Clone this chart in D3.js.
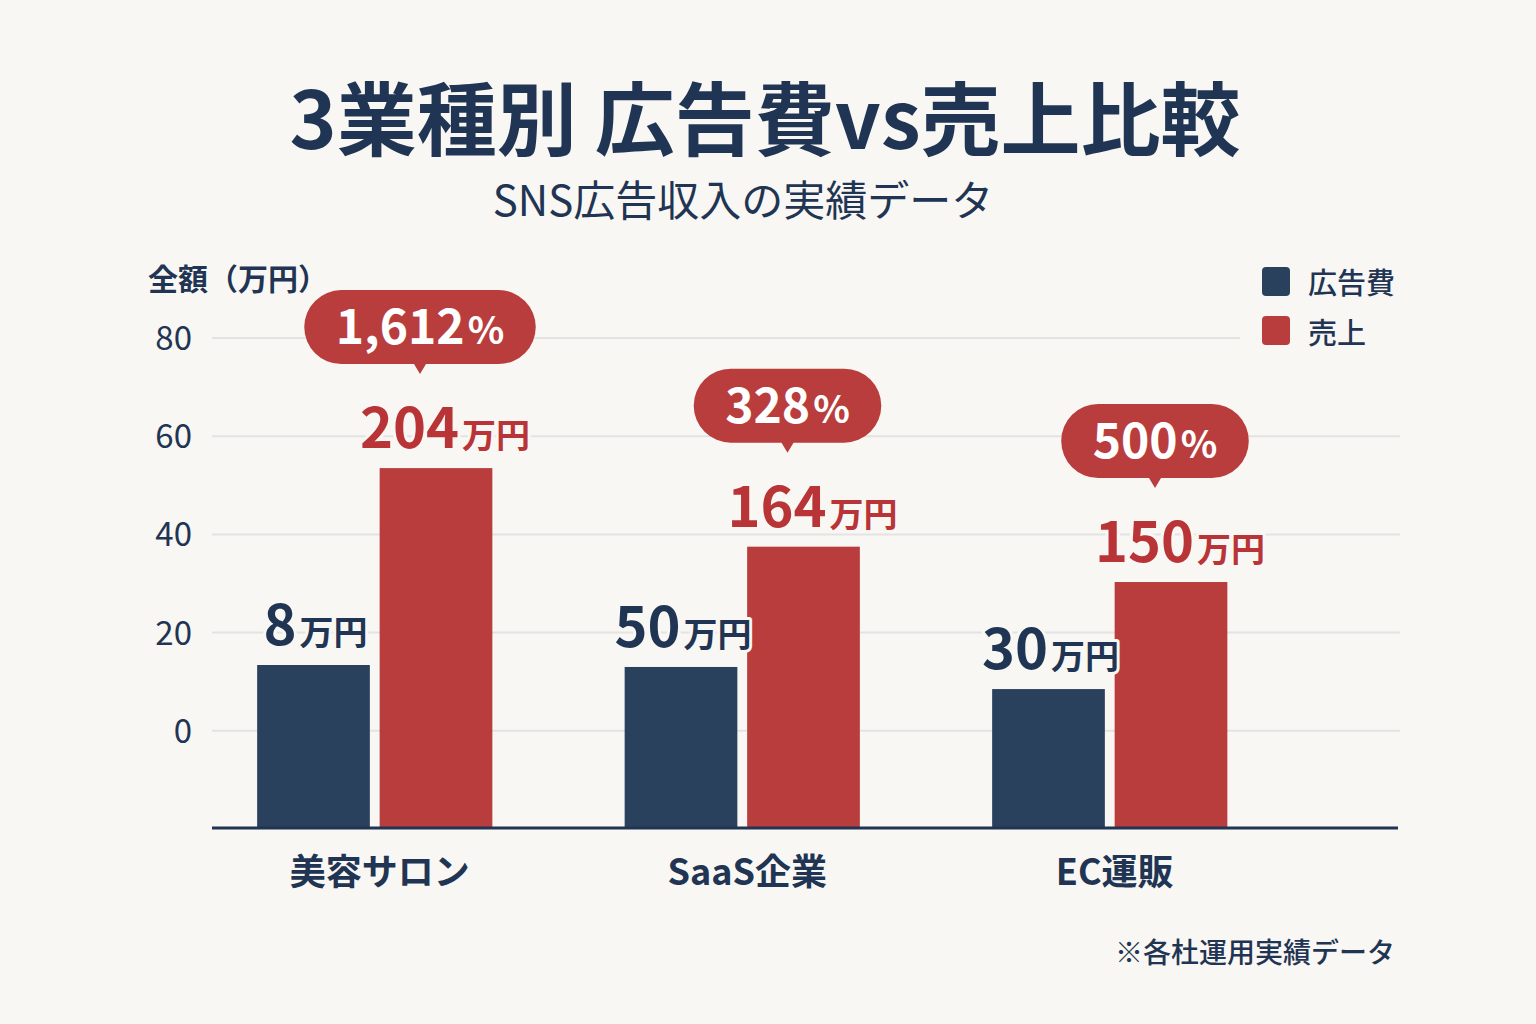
<!DOCTYPE html>
<html><head><meta charset="utf-8">
<script src="https://cdn.jsdelivr.net/npm/d3@7"></script>
<style>
html,body{margin:0;padding:0;background:#f9f7f3;}
svg{display:block;font-family:"Noto Sans CJK JP","Noto Sans",sans-serif;}
</style></head>
<body><svg id="chart" width="1536" height="1024"></svg>
<script>
// ---- data ----
const categories = ["美容サロン", "SaaS企業", "EC運販"];
const seriesNames = ["広告費", "売上"];
const adBarValues = [13.4, 13.0, 8.5];      // bar heights as drawn on the axis
const salesBarValues = [53.5, 37.5, 30.3];
const adLabels = ["8", "50", "30"];          // printed values (万円)
const salesLabels = ["204", "164", "150"];
const roiLabels = ["1,612", "328", "500"];   // printed ratios (%)
const yTicks = [0, 20, 40, 60, 80];

const navy = "#2a415e", red = "#b93d3d", textNavy = "#1f3553", redText = "#b83436", bg = "#f9f7f3";

const svg = d3.select("#chart");
svg.append("rect").attr("width",1536).attr("height",1024).attr("fill",bg);

const x0 = d3.scaleBand().domain(categories).range([191, 1293.5]).paddingInner(0.36).paddingOuter(0.18);
const x1 = d3.scaleBand().domain(seriesNames).range([0, x0.bandwidth()]).paddingInner(0.08);
const y = d3.scaleLinear().domain([-20, 80]).range([829, 338]);

// title
svg.append("text").attr("x",765).attr("y",149).attr("text-anchor","middle")
  .attr("font-size",80).attr("font-weight",700).attr("fill",textNavy).text("3業種別 広告費vs売上比較");
svg.append("text").attr("x",743).attr("y",216).attr("text-anchor","middle")
  .attr("font-size",42).attr("font-weight",400).attr("fill",textNavy).text("SNS広告収入の実績データ");

// y label
svg.append("text").attr("x",148).attr("y",290).attr("font-size",30).attr("font-weight",700)
  .attr("fill",textNavy).text("全額（万円）");

// grid
const grid = svg.append("g");
grid.selectAll("line").data(yTicks).join("line")
  .attr("x1",212).attr("x2",1400).attr("y1",d=>y(d)).attr("y2",d=>y(d))
  .attr("stroke","#e3e3e3").attr("stroke-width",2);
grid.selectAll("text").data(yTicks).join("text")
  .attr("x",192).attr("y",d=>y(d)+12).attr("text-anchor","end")
  .attr("font-size",33).attr("fill",textNavy).text(d=>d);

// legend
svg.append("rect").attr("x",1240).attr("y",255).attr("width",175).attr("height",100).attr("fill",bg);
const lg = svg.append("g");
seriesNames.forEach((s,i)=>{
  lg.append("rect").attr("x",1262).attr("y",267+i*49).attr("width",28).attr("height",29).attr("rx",4)
    .attr("fill", i===0?navy:red);
  lg.append("text").attr("x",1308).attr("y",294+i*50).attr("font-size",29).attr("font-weight",500)
    .attr("fill",textNavy).text(s);
});

// bars
const groups = svg.append("g").selectAll("g").data(categories).join("g")
  .attr("transform",d=>`translate(${x0(d)},0)`);

groups.append("rect").attr("x",x1("広告費")).attr("width",x1.bandwidth())
  .attr("y",(d,i)=>y(adBarValues[i])).attr("height",(d,i)=>y(-20)-y(adBarValues[i]))
  .attr("fill",navy);
groups.append("rect").attr("x",x1("売上")).attr("width",x1.bandwidth())
  .attr("y",(d,i)=>y(salesBarValues[i])).attr("height",(d,i)=>y(-20)-y(salesBarValues[i]))
  .attr("fill",red);

// baseline
svg.append("line").attr("x1",212).attr("x2",1398).attr("y1",828).attr("y2",828)
  .attr("stroke","#1f3553").attr("stroke-width",3);

function valueLabel(g, cx, by, num, color){
  const t = g.append("text").attr("x",cx).attr("y",by).attr("text-anchor","middle")
    .attr("font-weight",600).attr("fill",color)
    .attr("stroke",bg).attr("stroke-width",6).attr("stroke-linejoin","round").attr("paint-order","stroke");
  t.append("tspan").attr("font-size",56).text(num);
  t.append("tspan").attr("font-size",34).attr("dx",3).text("万円");
}

groups.each(function(d,i){
  const g = d3.select(this);
  const adC = x1("広告費") + x1.bandwidth()/2;
  const saC = x1("売上") + x1.bandwidth()/2;
  valueLabel(g, adC+2, y(adBarValues[i])-20, adLabels[i], textNavy);
  valueLabel(g, saC+9, y(salesBarValues[i])-20, salesLabels[i], redText);

  // bubble
  const bc = saC - 16, bottom = y(salesBarValues[i]) - 104, h = 74;
  const bub = g.append("g");
  const path = bub.append("path").attr("fill",red);
  const t = bub.append("text").attr("x",bc).attr("y",bottom-h/2+17).attr("text-anchor","middle")
    .attr("font-weight",600).attr("fill","#ffffff");
  t.append("tspan").attr("font-size",48).text(roiLabels[i]);
  t.append("tspan").attr("font-size",38).attr("dx",3).text("%");
  const w = t.node().getComputedTextLength() + 66;
  const r = h/2, L = bc - w/2, R = bc + w/2, T = bottom - h;
  path.attr("d",`M${L+r},${T} H${R-r} A${r},${r} 0 0 1 ${R-r},${bottom} H${bc+6} L${bc},${bottom+10} L${bc-6},${bottom} H${L+r} A${r},${r} 0 0 1 ${L+r},${T} Z`);

  // category label
  g.append("text").attr("x",x0.bandwidth()/2+5).attr("y",885).attr("text-anchor","middle")
    .attr("font-size",36).attr("font-weight",700).attr("fill",textNavy).text(d);
});

// footnote
svg.append("text").attr("x",1395).attr("y",963).attr("text-anchor","end")
  .attr("font-size",28).attr("font-weight",500).attr("fill",textNavy).text("※各杜運用実績データ");
</script></body></html>
